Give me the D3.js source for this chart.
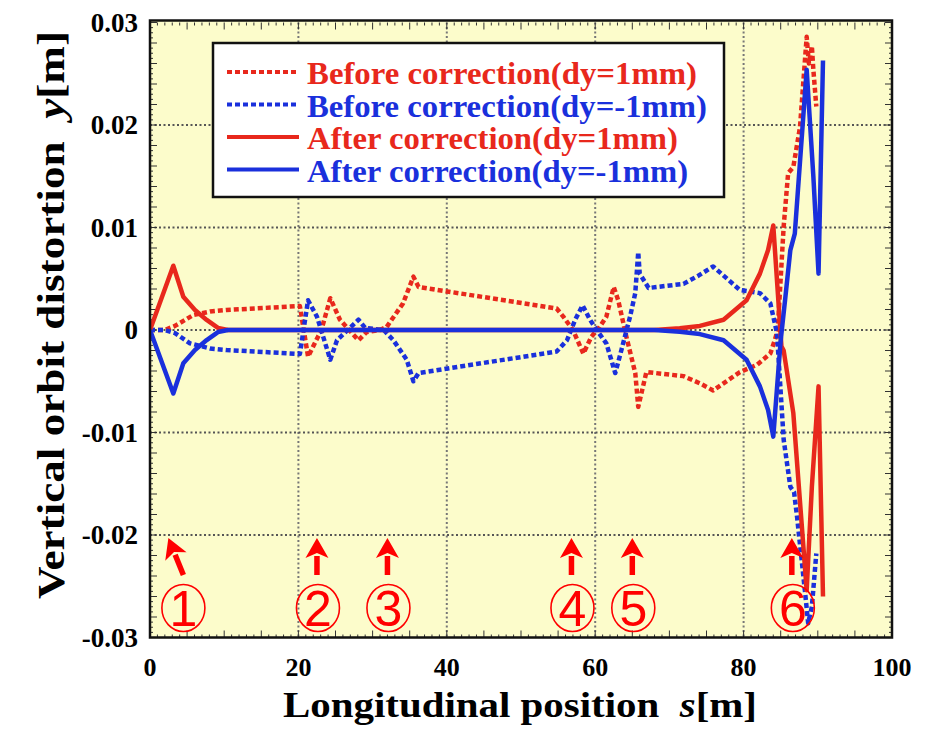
<!DOCTYPE html>
<html><head><meta charset="utf-8">
<script src="https://cdn.jsdelivr.net/npm/d3@7/dist/d3.min.js"></script>
<style>body{margin:0;background:#fff}svg{display:block}text{white-space:pre}</style>
</head><body>
<script>
// ---- data ----
const sBeforeUp = [0,2.0,3.37,5.84,8.09,10.3,20.2,21.3,23.1,24.3,25.6,28.1,29.2,31.0,31.9,34.1,35.5,36.2,54.8,55.7,57.0,58.4,59.5,60.6,61.5,62.5,63.1,64.2,65.4,65.8,66.9,71.9,74.1,75.9,79.5,81.8,83.6,84.2,84.6,85.4,86.0,86.7,87.6,88.5,88.8,89.2,89.4,89.8];
const vBeforeUp = [0,0,0.0004,0.00146,0.0018,0.00195,0.00234,-0.0026,0,0.0031,0.001,-0.001,-0.0002,0,0.0003,0.0026,0.0052,0.0042,0.0021,0.0013,0,-0.0023,-0.00065,0.0003,0.0013,0.0042,0.0029,-0.00065,-0.0042,-0.0075,-0.0041,-0.0045,-0.0052,-0.0059,-0.0041,-0.0034,-0.0023,-0.001,0.0,0.0101,0.0153,0.0159,0.0198,0.0286,0.026,0.0277,0.0254,0.0218];
const sBeforeDown = [0,2.0,3.37,5.39,8.09,10.3,20.2,21.3,22.5,24.3,25.2,28.1,29.0,31.5,32.8,34.6,35.5,36.2,54.8,56.2,57.3,58.3,59.3,60.2,61.5,62.7,63.3,64.7,65.4,65.8,66.0,67.2,71.9,73.9,75.9,79.5,82.2,83.6,84.5,85.4,86.3,86.8,87.2,88.3,88.7,89.2,89.8];
const vBeforeDown = [0,0,-0.0003,-0.0013,-0.0018,-0.00195,-0.00234,0.0029,0.0013,-0.0029,-0.001,0.001,0.0002,0,-0.001,-0.0029,-0.005,-0.0042,-0.0021,-0.001,0.001,0.0024,0.001,0,-0.0013,-0.0042,-0.0026,0.0013,0.0036,0.0076,0.0055,0.0041,0.0045,0.0053,0.0062,0.0039,0.0036,0.0026,-0.0003,-0.0107,-0.0153,-0.0158,-0.0182,-0.0257,-0.0286,-0.027,-0.0218];
const sAfterUp = [0,3.14,4.49,6.06,7.64,9.16,10.5,68.0,71.4,74.1,77.3,80.4,82.2,83.3,84.0,85.1,85.4,86.7,88.5,89.2,90.1,90.7];
const vAfterUp = [0,0.00627,0.00325,0.00195,0.00098,0.0002,0,0,0.00017,0.0004,0.001,0.0029,0.0055,0.0078,0.0102,-0.0016,-0.002,-0.0081,-0.0254,-0.0153,-0.0055,-0.026];
const sAfterDown = [0,3.14,4.49,6.06,7.64,9.16,10.5,68.0,71.4,74.1,77.3,80.4,82.2,83.3,84.0,85.0,85.6,86.3,86.9,88.5,89.4,90.1,90.7];
const vAfterDown = [0,-0.0062,-0.00325,-0.00195,-0.00098,-0.0002,0,0,-0.00017,-0.0004,-0.001,-0.0029,-0.0055,-0.0078,-0.0104,-0.001,0.003,0.0078,0.0094,0.0254,0.015,0.0055,0.0263];
const seriesLabels = ["Before correction(dy=1mm)","Before correction(dy=-1mm)","After correction(dy=1mm)","After correction(dy=-1mm)"];
const xTicks = [0,20,40,60,80,100];
const yTicks = [-0.03,-0.02,-0.01,0,0.01,0.02,0.03];
const markerLabels = ["1","2","3","4","5","6"];
const markerS = [4.5,22.5,32.0,56.8,65.0,86.5];

// ---- layout ----
const W = 935, H = 738;
const L = 150, R = 892, T = 22.5, B = 637.5;
const RED = "#e8281c", BLUE = "#1a30dc";
const svg = d3.select("body").append("svg").attr("width", W).attr("height", H);
const x = d3.scaleLinear().domain([0,100]).range([L,R]);
const y = d3.scaleLinear().domain([-0.03,0.03]).range([B,T]);

svg.append("rect").attr("x",L).attr("y",T-2).attr("width",R-L).attr("height",B-T+3).attr("fill","#fcfccb");

// grid
const g = svg.append("g");
g.selectAll(".gx").data(xTicks.slice(1,-1)).join("line")
  .attr("x1",d=>x(d)).attr("x2",d=>x(d)).attr("y1",T).attr("y2",B)
  .attr("stroke","#777").attr("stroke-width",2).attr("stroke-dasharray","2,2.5");
g.selectAll(".gy").data(yTicks.slice(1,-1)).join("line")
  .attr("y1",d=>y(d)).attr("y2",d=>y(d)).attr("x1",L).attr("x2",R)
  .attr("stroke","#555").attr("stroke-width",2).attr("stroke-dasharray","2,2.5");

// minor ticks
const xt1 = d3.range(0,101,1), yt1 = d3.range(-30,30.01,0.5).map(v=>v/1000);
const tk = svg.append("g").attr("stroke","#333");
xt1.forEach(v=>{
  const len = v%5===0 ? 7 : 3;
  tk.append("line").attr("x1",x(v)).attr("x2",x(v)).attr("y1",B).attr("y2",B-len).attr("stroke-width",1);
  tk.append("line").attr("x1",x(v)).attr("x2",x(v)).attr("y1",T).attr("y2",T+len).attr("stroke-width",1);
});
yt1.forEach(v=>{
  const len = Math.abs(Math.round(v*10000))%20===0 ? 7 : 3;
  tk.append("line").attr("y1",y(v)).attr("y2",y(v)).attr("x1",L).attr("x2",L+len).attr("stroke-width",1);
  tk.append("line").attr("y1",y(v)).attr("y2",y(v)).attr("x1",R).attr("x2",R-len).attr("stroke-width",1);
});

// data lines
const line = d3.line().x(d=>x(d[0])).y(d=>y(d[1]));
const zip = (a,b)=>a.map((s,i)=>[s,b[i]]);
svg.append("clipPath").attr("id","c").append("rect").attr("x",L).attr("y",T-2).attr("width",R-L).attr("height",B-T+4);
const dg = svg.append("g").attr("clip-path","url(#c)").attr("fill","none").attr("stroke-linejoin","round");
dg.append("path").attr("d",line(zip(sBeforeUp,vBeforeUp))).attr("stroke",RED).attr("stroke-width",4.5).attr("stroke-dasharray","5,3");
dg.append("path").attr("d",line(zip(sBeforeDown,vBeforeDown))).attr("stroke",BLUE).attr("stroke-width",4.5).attr("stroke-dasharray","5,3");
dg.append("path").attr("d",line(zip(sAfterUp,vAfterUp))).attr("stroke",RED).attr("stroke-width",4.5);
dg.append("path").attr("d",line(zip(sAfterDown,vAfterDown))).attr("stroke",BLUE).attr("stroke-width",4.5);

// frame
svg.append("rect").attr("x",L).attr("y",T-2).attr("width",R-L).attr("height",B-T+2).attr("fill","none").attr("stroke","#111").attr("stroke-width",2.5);

// tick labels
const tf = "'Liberation Serif','Times New Roman',serif";
svg.selectAll(".xl").data(xTicks).join("text").attr("x",d=>x(d)).attr("y",676)
  .attr("text-anchor","middle").attr("font-family",tf).attr("font-weight","bold").attr("font-size",26).text(d=>d);
svg.selectAll(".yl").data(yTicks).join("text").attr("x",138).attr("y",d=>y(d)+9)
  .attr("text-anchor","end").attr("font-family",tf).attr("font-weight","bold").attr("font-size",27)
  .text(d=>d===0?"0":d.toFixed(2));

// axis titles
const xt = svg.append("text").attr("x",520).attr("y",717).attr("text-anchor","middle")
  .attr("font-family",tf).attr("font-weight","bold").attr("font-size",36)
  .attr("textLength",474).attr("lengthAdjust","spacingAndGlyphs");
xt.append("tspan").text("Longitudinal position  ");
xt.append("tspan").attr("font-style","italic").text("s");
xt.append("tspan").text("[m]");
const yt = svg.append("text").attr("transform","translate(64,315) rotate(-90)").attr("text-anchor","middle")
  .attr("font-family",tf).attr("font-weight","bold").attr("font-size",37)
  .attr("textLength",568).attr("lengthAdjust","spacingAndGlyphs");
yt.append("tspan").text("Vertical orbit distortion  ");
yt.append("tspan").attr("font-style","italic").text("y");
yt.append("tspan").text("[m]");

// legend
svg.append("rect").attr("x",213).attr("y",43).attr("width",511).attr("height",154).attr("fill","#fff").attr("stroke","#111").attr("stroke-width",2.5);
const lgColors=[RED,BLUE,RED,BLUE], lgDash=["5,3","5,3",null,null], lgBase=[84,116.5,149,181.5], lgLen=[390,400,371,381];
seriesLabels.forEach((t,i)=>{
  svg.append("line").attr("x1",227).attr("x2",299).attr("y1",lgBase[i]-12).attr("y2",lgBase[i]-12)
    .attr("stroke",lgColors[i]).attr("stroke-width",4).attr("stroke-dasharray",lgDash[i]);
  svg.append("text").attr("x",307).attr("y",lgBase[i]).attr("fill",lgColors[i]).attr("font-family",tf)
    .attr("font-weight","bold").attr("font-size",32).attr("textLength",lgLen[i]).attr("lengthAdjust","spacingAndGlyphs").text(t);
});

// markers (arrows + circled numbers)
const mk = svg.append("g");
markerS.forEach((s,i)=>{
  const cx = x(s);
  const tipX = i===0 ? cx-15 : cx, tipY = 538, tailX = cx, tailY = 575;
  const ang = Math.atan2(tipY-tailY, tipX-tailX);
  const hl = 20, hw = 11.5;
  const bx = tipX - hl*Math.cos(ang), by = tipY - hl*Math.sin(ang);
  const px = -Math.sin(ang), py = Math.cos(ang);
  mk.append("line").attr("x1",tailX).attr("y1",tailY).attr("x2",bx+2*Math.cos(ang)).attr("y2",by+2*Math.sin(ang)).attr("stroke","#f00").attr("stroke-width",5.5);
  mk.append("path").attr("d",`M${tipX},${tipY}L${bx+hw*px},${by+hw*py}L${bx+5*Math.cos(ang)},${by+5*Math.sin(ang)}L${bx-hw*px},${by-hw*py}Z`).attr("fill","#f00");
  const ccx = i===0 ? cx : cx+1;
  mk.append("ellipse").attr("cx",ccx).attr("cy",608).attr("rx",21.5).attr("ry",23.5).attr("fill","none").attr("stroke","#f00").attr("stroke-width",1.6);
  mk.append("text").attr("x",ccx).attr("y",626).attr("text-anchor","middle").attr("fill","#f00")
    .attr("font-family","'Liberation Sans',Arial,sans-serif").attr("font-size",50).text(markerLabels[i]);
});
</script>
</body></html>
